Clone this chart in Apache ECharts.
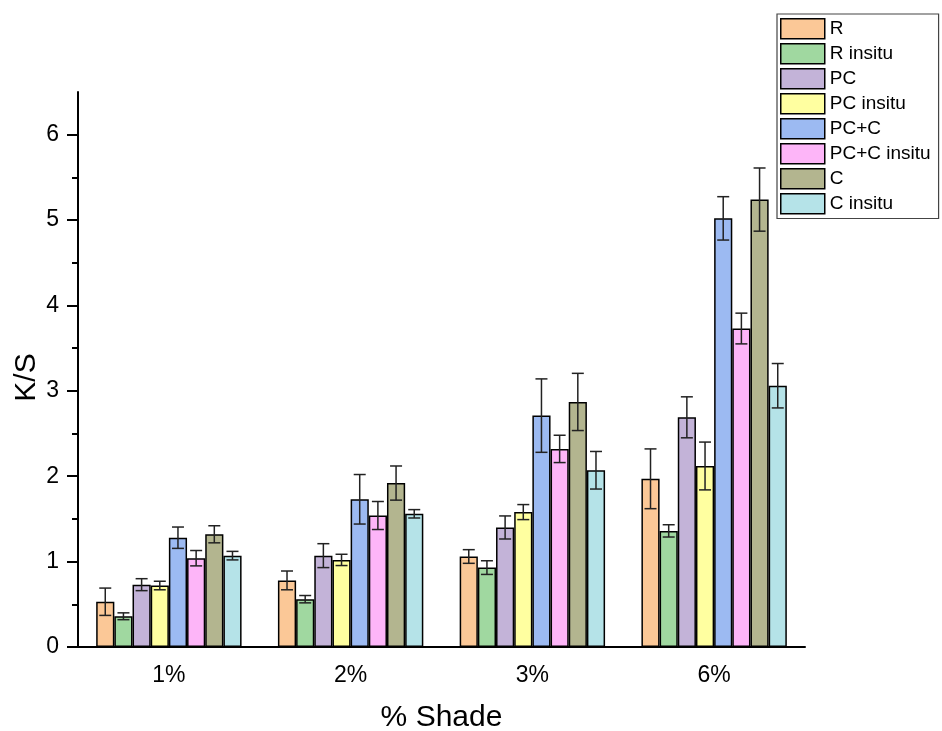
<!DOCTYPE html>
<html>
<head>
<meta charset="utf-8">
<script src="https://cdn.jsdelivr.net/npm/echarts@6/dist/echarts.min.js"></script>
<style>
html,body{margin:0;padding:0;background:#fff;}
#chart{width:942px;height:731px;}
</style>
</head>
<body>
<div id="chart"></div>
<script>
const categories = ['1%', '2%', '3%', '6%'];
const seriesNames = ['R', 'R insitu', 'PC', 'PC insitu', 'PC+C', 'PC+C insitu', 'C', 'C insitu'];

const R = [0.53, 0.78, 1.06, 1.97];
const R_insitu = [0.36, 0.56, 0.93, 1.36];
const PC = [0.73, 1.07, 1.40, 2.69];
const PC_insitu = [0.72, 1.02, 1.58, 2.12];
const PCC = [1.28, 1.73, 2.71, 5.02];
const PCC_insitu = [1.04, 1.54, 2.32, 3.73];
const C = [1.32, 1.92, 2.87, 5.24];
const C_insitu = [1.07, 1.56, 2.07, 3.06];

const R_err = [0.16, 0.11, 0.08, 0.35];
const R_insitu_err = [0.04, 0.043, 0.08, 0.072];
const PC_err = [0.07, 0.14, 0.135, 0.24];
const PC_insitu_err = [0.05, 0.066, 0.088, 0.28];
const PCC_err = [0.125, 0.29, 0.43, 0.254];
const PCC_insitu_err = [0.09, 0.164, 0.16, 0.18];
const C_err = [0.1, 0.2, 0.335, 0.37];
const C_insitu_err = [0.05, 0.049, 0.22, 0.26];

const yTickValues = [0, 1, 2, 3, 4, 5, 6];
const yMinorTickValues = [0.5, 1.5, 2.5, 3.5, 4.5, 5.5];

const allValues = [R, R_insitu, PC, PC_insitu, PCC, PCC_insitu, C, C_insitu];
const allErrors = [R_err, R_insitu_err, PC_err, PC_insitu_err, PCC_err, PCC_insitu_err, C_err, C_insitu_err];
const colors = ['#FBC897', '#A0D8A0', '#C3B3D8', '#FFFFA0', '#9CBAF2', '#FDB5F8', '#B3B58F', '#B5E3E8'];

const FONT = '"Liberation Sans", Arial, sans-serif';
const N = seriesNames.length;
const CAT_GAP = 0.2;

const barSeries = seriesNames.map((name, i) => ({
  name: name,
  type: 'bar',
  data: allValues[i],
  barGap: '0%',
  barCategoryGap: '20%',
  itemStyle: { color: colors[i], borderColor: '#000', borderWidth: 1.5 },
  z: 2
}));

const errData = [];
allValues.forEach((vals, si) => {
  vals.forEach((v, ci) => {
    errData.push([ci, v, allErrors[si][ci], si]);
  });
});

const errSeries = {
  name: 'errors',
  type: 'custom',
  data: errData,
  encode: { x: 0, y: 1 },
  z: 5,
  silent: true,
  renderItem: function (params, api) {
    const ci = api.value(0), v = api.value(1), e = api.value(2), si = api.value(3);
    const band = api.size([1, 0])[0];
    const barW = band * (1 - CAT_GAP) / N;
    const c = api.coord([ci, v]);
    const x = c[0] + (si - (N - 1) / 2) * barW;
    const hi = api.coord([ci, v + e])[1];
    const lo = api.coord([ci, v - e])[1];
    const cw = 6;
    const st = { stroke: '#222', lineWidth: 1.5 };
    return {
      type: 'group',
      children: [
        { type: 'line', shape: { x1: x, y1: hi, x2: x, y2: lo }, style: st },
        { type: 'line', shape: { x1: x - cw, y1: hi, x2: x + cw, y2: hi }, style: st },
        { type: 'line', shape: { x1: x - cw, y1: lo, x2: x + cw, y2: lo }, style: st }
      ]
    };
  }
};

const chart = echarts.init(document.getElementById('chart'), null, { renderer: 'canvas' });
chart.setOption({
  animation: false,
  backgroundColor: '#fff',
  textStyle: { fontFamily: FONT },
  grid: { left: 78, right: 137, top: 92, bottom: 84, containLabel: false, outerBoundsMode: 'none' },
  legend: {
    data: seriesNames,
    orient: 'vertical',
    left: 777,
    top: 14,
    itemWidth: 44,
    itemHeight: 20,
    itemGap: 3.5,
    padding: [4, 8, 4, 3],
    borderColor: '#444',
    borderWidth: 1.2,
    icon: 'rect',
    itemStyle: { borderColor: '#000', borderWidth: 1.5 },
    textStyle: { fontFamily: FONT, fontSize: 19, color: '#000' }
  },
  xAxis: [
    {
      type: 'category',
      data: categories,
      position: 'bottom',
      boundaryGap: true,
      axisLine: { lineStyle: { color: '#000', width: 2 } },
      axisTick: { alignWithLabel: true, length: 9, lineStyle: { color: '#000', width: 2 } },
      axisLabel: { fontFamily: FONT, fontSize: 23, color: '#000', margin: 17 },
      name: '% Shade',
      nameLocation: 'middle',
      nameGap: 56,
      nameMoveOverlap: false,
      nameTextStyle: { fontFamily: FONT, fontSize: 30, color: '#000' },
      splitLine: { show: false }
    },
    {
      type: 'category',
      data: categories,
      position: 'bottom',
      boundaryGap: true,
      axisLine: { show: false },
      axisTick: { alignWithLabel: false, length: 5, lineStyle: { color: '#000', width: 2 } },
      axisLabel: { show: false },
      splitLine: { show: false }
    }
  ],
  yAxis: [
    {
      type: 'value',
      min: 0,
      max: 6.5,
      interval: 1,
      position: 'left',
      axisLine: { show: true, lineStyle: { color: '#000', width: 2 } },
      axisTick: { show: true, length: 11, customValues: yTickValues, lineStyle: { color: '#000', width: 2 } },
      axisLabel: { fontFamily: FONT, fontSize: 23, color: '#000', margin: 19, customValues: yTickValues },
      splitLine: { show: false },
      name: 'K/S',
      nameLocation: 'middle',
      nameGap: 36,
      nameMoveOverlap: false,
      nameTextStyle: { fontFamily: FONT, fontSize: 30, color: '#000', padding: [0, 0, 0, -16] }
    },
    {
      type: 'value',
      min: 0,
      max: 6.5,
      interval: 0.5,
      position: 'left',
      axisLine: { show: false },
      axisTick: { show: true, length: 6, customValues: yMinorTickValues, lineStyle: { color: '#000', width: 2 } },
      axisLabel: { show: false },
      splitLine: { show: false }
    }
  ],
  series: barSeries.concat([errSeries])
});
</script>
</body>
</html>
